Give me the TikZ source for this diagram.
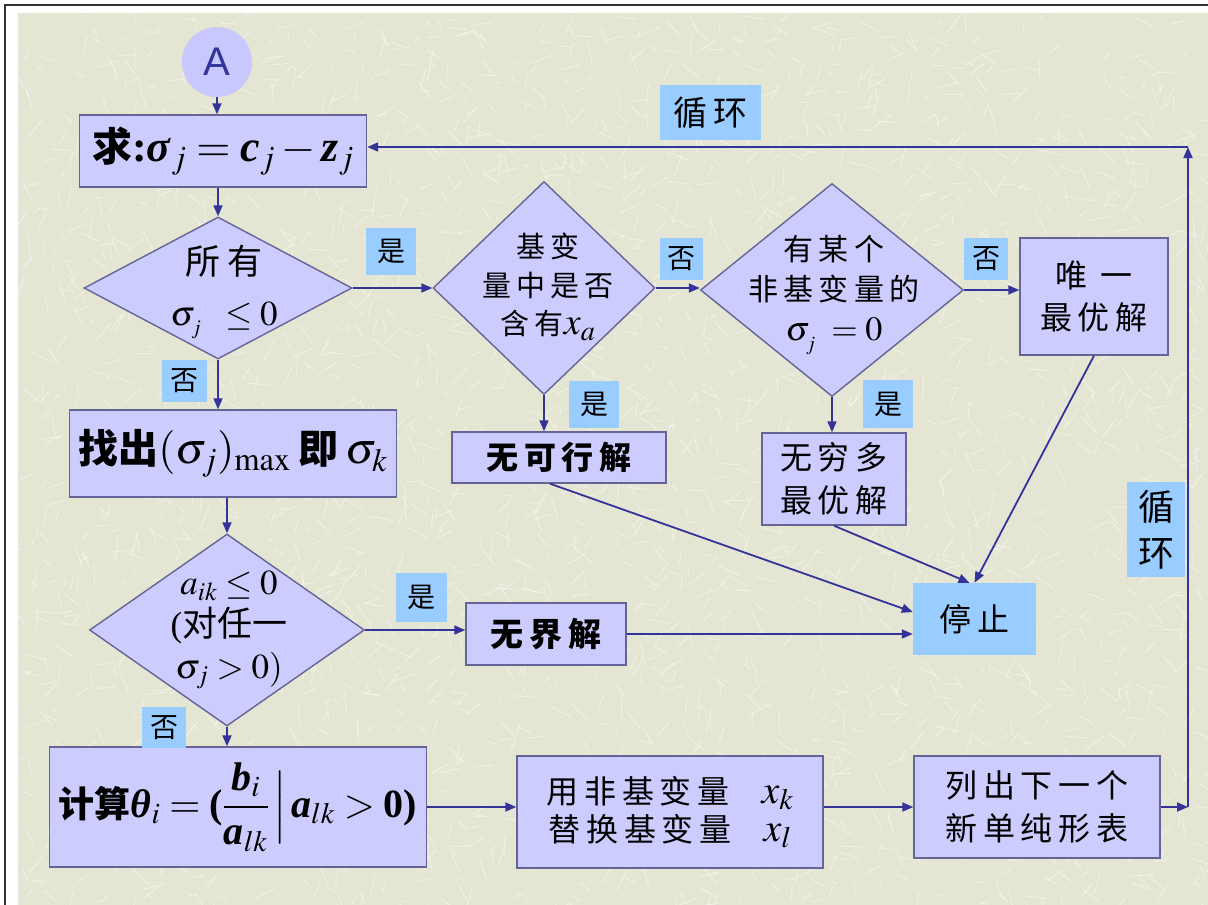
\documentclass[tikz,border=0pt]{standalone}
\usepackage{mathptmx}
\usepackage{fontspec}
\setmainfont{Liberation Serif}
\newfontfamily\cjk{Noto Sans CJK SC}
\newfontfamily\cjks[LetterSpace=18]{Noto Sans CJK SC}
\newfontfamily\sansA{Liberation Sans}
\newcommand\bitx[1]{\textbf{\textit{#1}}}
\usetikzlibrary{arrows.meta,shapes.geometric}
\definecolor{bgc}{RGB}{229,229,212}
\definecolor{texc}{RGB}{247,247,238}
\definecolor{boxfill}{RGB}{204,204,255}
\definecolor{boxline}{RGB}{100,100,150}
\definecolor{labfill}{RGB}{153,204,255}
\definecolor{arrowc}{RGB}{51,51,153}
\definecolor{circfill}{RGB}{200,200,255}
\begin{document}
\begin{tikzpicture}[x=1pt,y=-1pt,
  box/.style={draw=boxline,fill=boxfill,line width=1.4pt,inner sep=0pt,align=center},
  dia/.style={shape=diamond,draw=boxline,fill=boxfill,line width=1.4pt,inner sep=0pt},
  lab/.style={fill=labfill,inner sep=0pt,align=center},
  conn/.style={draw=arrowc,line width=1.8pt,-{Triangle[length=11pt,width=9pt]}},
  txt/.style={inner sep=0pt,align=center}]
% frame and background
\fill[white] (0,0) rectangle (1208,905);
\useasboundingbox (0,0) rectangle (1208,905);
\draw[line width=2.5pt,black!80] (5,905) -- (5,5) -- (1208,5);
\fill[bgc] (18,13) rectangle (1208,905);
\begin{scope}
\clip (18,13) rectangle (1208,905);
\pgfmathsetseed{7}
\foreach \i in {1,...,2600}{
  \pgfmathsetmacro{\px}{18+rnd*1190}
  \pgfmathsetmacro{\py}{13+rnd*892}
  \pgfmathsetmacro{\an}{rnd*180}
  \pgfmathsetmacro{\ln}{6+rnd*18}
  \draw[texc,line width=1pt,opacity=0.65] (\px,\py) -- ++(\an:\ln);
}
\end{scope}
% nodes
\node[circle,fill=circfill,minimum size=70pt,inner sep=0pt,text=arrowc,font=\sansA\fontsize{40}{40}\selectfont] (A) at (217,62) {A};
\node[box,minimum width=287pt,minimum height=72pt,font=\fontsize{44}{46}\selectfont] (qiu) at (223,151) {{\cjk\bfseries\fontsize{40}{44}\selectfont 求}\textbf{:}$\bitx{σ}_{j}=\bitx{c}_{j}-\bitx{z}_{j}$};
\node[dia,minimum width=268pt,minimum height=142pt] (d1) at (218,288) {};
\node[txt,font=\fontsize{35}{51}\selectfont] (d1t) at (224,292) {{\cjks 所有}\\$\sigma_{_j}\;\;\le 0$};
\node[box,minimum width=327pt,minimum height=87pt,font=\fontsize{44}{46}\selectfont] (zc) at (233,453.5) {{\cjk\bfseries\fontsize{40}{44}\selectfont 找出}$(\sigma_{j})_{\max}$\,{\cjk\bfseries\fontsize{40}{44}\selectfont 即}\,$\sigma_{k}$};
\node[dia,minimum width=275pt,minimum height=192pt] (d3) at (227,630) {};
\node[txt,font=\fontsize{35}{42}\selectfont] (d3t) at (229,630) {$a_{ik}\le 0$\\({\cjk 对任一}\\$\sigma_{j}>0)$};
\node[box,minimum width=377pt,minimum height=120pt,font=\fontsize{40}{44}\selectfont] (js) at (238,807) {{\cjk\bfseries\fontsize{36}{40}\selectfont 计算}$\bitx{θ}_{i}=\textbf{(}\displaystyle\frac{\bitx{b}_{i}}{\bitx{a}_{lk}}\,\Big|\,\bitx{a}_{lk}>\textbf{0)}$};
\node[dia,minimum width=222pt,minimum height=213pt] (d2) at (544,288) {};
\node[txt,font=\fontsize{29}{38.5}\selectfont] (d2t) at (548,287) {{\cjks 基变}\\{\cjks 量中是否}\\{\cjks 含有}{\fontsize{38}{38}\selectfont$x_{a}$}};
\node[dia,minimum width=263pt,minimum height=213pt] (d4) at (832,290) {};
\node[txt,font=\fontsize{30}{40}\selectfont] (d4t) at (834,295) {{\cjks 有某个}\\{\cjks 非基变量的}\\{\fontsize{34}{34}\selectfont$\sigma_{_j}\;=0$}};
\node[box,minimum width=148pt,minimum height=117pt,font=\cjks\fontsize{32}{42}\selectfont] (wy) at (1094,296.5) {唯 一\\最优解};
\node[box,minimum width=214pt,minimum height=51pt,font=\cjks\bfseries\fontsize{32}{36}\selectfont] (wkx) at (559,457.5) {无可行解};
\node[box,minimum width=144pt,minimum height=92pt,font=\cjks\fontsize{32}{43}\selectfont] (wqd) at (834,479) {无穷多\\最优解};
\node[lab,minimum width=123pt,minimum height=72pt,font=\cjks\fontsize{32}{36}\selectfont] (tz) at (974.5,619) {停止};
\node[box,minimum width=160pt,minimum height=62pt,font=\cjks\bfseries\fontsize{33}{36}\selectfont] (wjj) at (546,634) {无界解};
\node[box,minimum width=306pt,minimum height=112pt,font=\fontsize{32}{38}\selectfont] (yf) at (670,812) {{\cjks 用非基变量}\quad{\fontsize{40}{38}\selectfont$x_{k}$}\\{\cjks 替换基变量}\quad{\fontsize{40}{38}\selectfont$x_{l}$}};
\node[box,minimum width=246pt,minimum height=102pt,font=\cjks\fontsize{32}{43}\selectfont] (lc) at (1037,807) {列出下一个\\新单纯形表};
% labels
\node[lab,minimum width=50pt,minimum height=47pt,font=\cjk\fontsize{28}{30}\selectfont] (l1) at (391,251.5) {是};
\node[lab,minimum width=45pt,minimum height=42pt,font=\cjk\fontsize{28}{30}\selectfont] (l2) at (184.5,381) {否};
\node[lab,minimum width=43pt,minimum height=42pt,font=\cjk\fontsize{28}{30}\selectfont] (l3) at (681.5,259) {否};
\node[lab,minimum width=50pt,minimum height=47pt,font=\cjk\fontsize{28}{30}\selectfont] (l4) at (594,404.5) {是};
\node[lab,minimum width=44pt,minimum height=42pt,font=\cjk\fontsize{28}{30}\selectfont] (l5) at (986,259) {否};
\node[lab,minimum width=50pt,minimum height=48pt,font=\cjk\fontsize{28}{30}\selectfont] (l6) at (888,404) {是};
\node[lab,minimum width=51pt,minimum height=49pt,font=\cjk\fontsize{28}{30}\selectfont] (l7) at (421.5,597.5) {是};
\node[lab,minimum width=44pt,minimum height=41pt,font=\cjk\fontsize{28}{30}\selectfont] (l8) at (164,727.5) {否};
\node[lab,minimum width=101pt,minimum height=55pt,font=\cjks\fontsize{34}{36}\selectfont] (loop1) at (710.5,112.5) {循环};
\node[lab,minimum width=58pt,minimum height=95pt,font=\cjk\fontsize{36}{46}\selectfont] (loop2) at (1156,529.5) {循\\环};
\coordinate (c1) at (1188,807);
\coordinate (c2) at (1188,147);
% connectors
\draw[conn] (A.south) -- (A.south |- qiu.north);
\draw[conn] (d1.north |- qiu.south) -- (d1.north);
\draw[conn] (d1.east) -- (d2.west);
\draw[conn] (d2.east) -- (d2.east -| d4.west);
\draw[conn] (d4.east) -- (d4.east -| wy.west);
\draw[conn] (d1.south) -- (d1.south |- zc.north);
\draw[conn] (d3.north |- zc.south) -- (d3.north);
\draw[conn] (d3.south) -- (d3.south |- js.north);
\draw[conn] (d3.east) -- (d3.east -| wjj.west);
\draw[conn] (wjj.east) -- (wjj.east -| tz.west);
\draw[conn] (js.east) -- (js.east -| yf.west);
\draw[conn] (yf.east |- lc.west) -- (lc.west);
\draw[conn] (lc.east) -- (c1);
\draw[conn] (c1) -- (c2);
\draw[conn] (c2) -- (c2 -| qiu.east);
\draw[conn] (d2.south) -- (d2.south |- wkx.north);
\draw[conn] (d4.south) -- (d4.south |- wqd.north);
\draw[conn] ([xshift=-9pt]wkx.south) -- ([yshift=7pt]tz.west);
\draw[conn] (wqd.south) -- ([xshift=-5pt]tz.north);
\draw[conn] (wy.south) -- (tz.north);
\end{tikzpicture}
\end{document}
